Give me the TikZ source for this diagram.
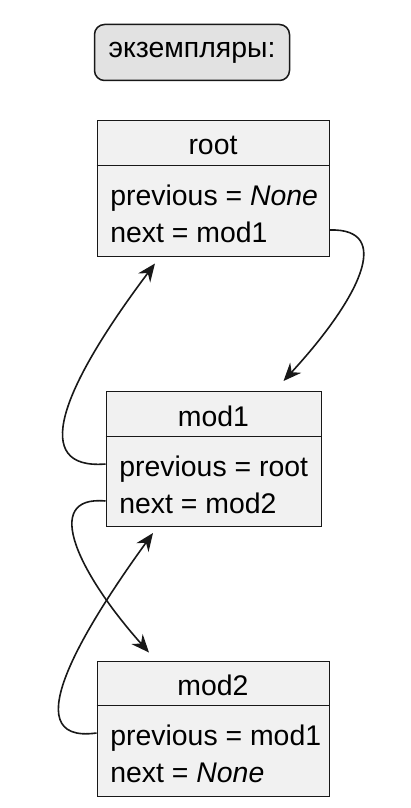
\documentclass[tikz,border=0pt]{standalone}
\usepackage{fontspec}
\setmainfont{Liberation Sans}
\usetikzlibrary{arrows.meta, calc}
\definecolor{umlline}{HTML}{181818}
\definecolor{umlfill}{HTML}{F1F1F1}
\definecolor{notefill}{HTML}{E2E2E2}

\begin{document}
\begin{tikzpicture}[x=0.5pt, y=-0.5pt, font=\fontsize{14.2}{17}\selectfont,
  objbox/.style={draw=umlline, fill=umlfill, line width=0.5pt, inner sep=0pt, minimum width=#1, minimum height=67.5pt},
  attr/.style={anchor=base west, inner sep=0pt, text height=12pt, text depth=0pt},
  link/.style={-{Stealth[length=9pt, width=7.5pt, inset=3pt]}, umlline, line width=0.8pt}]
  \useasboundingbox (0,0) rectangle (411,808);

  % legend
  \node[draw=umlline, fill=notefill, line width=0.75pt, rounded corners=5pt, minimum width=97.5pt, minimum height=28pt] (inst) at (192,52.5) {экземпляры:};

  % objects
  \node[objbox=116pt] (root) at (213,188.5) {};
  \node[anchor=base] (roottitle) at (213,155) {root};
  \draw[umlline, line width=0.5pt] ([yshift=-22.5pt]root.north west) -- ([yshift=-22.5pt]root.north east);
  \node[attr] (rootprev) at (110,205) {previous = \textit{None}};
  \node[attr] (rootnext) at (110,242) {next = mod1};

  \node[objbox=107.5pt] (mod1) at (213.5,459) {};
  \node[anchor=base] (mod1title) at (213.5,426) {mod1};
  \draw[umlline, line width=0.5pt] ([yshift=-22.5pt]mod1.north west) -- ([yshift=-22.5pt]mod1.north east);
  \node[attr] (mod1prev) at (119,476) {previous = root};
  \node[attr] (mod1next) at (119,513) {next = mod2};

  \node[objbox=116pt] (mod2) at (213,728.5) {};
  \node[anchor=base] (mod2title) at (213,695) {mod2};
  \draw[umlline, line width=0.5pt] ([yshift=-22.5pt]mod2.north west) -- ([yshift=-22.5pt]mod2.north east);
  \node[attr] (mod2prev) at (110,745) {previous = mod1};
  \node[attr] (mod2next) at (110,782) {next = \textit{None}};

  % links
  \draw[link] (root.east |- rootnext.west) .. controls (395,228) and (358,300) .. ($(mod1.north)+(70,-10)$);
  \draw[link] (mod1.west |- mod1prev.west) .. controls (30,470) and (60,390) .. ($(root.south)+(-58,7)$);
  \draw[link] (mod1.west |- mod1next.west) .. controls (40,495) and (80,575) .. ($(mod2.north)+(-64,-8)$);
  \draw[link] (mod2.west |- mod2prev.west) .. controls (10,745) and (90,620) .. ($(mod1.south)+(-60.5,6)$);
\end{tikzpicture}
\end{document}
